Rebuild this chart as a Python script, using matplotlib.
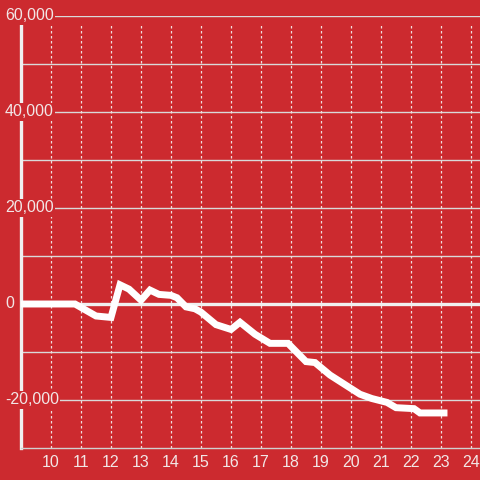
import matplotlib
matplotlib.use("Agg")
import matplotlib.pyplot as plt
import matplotlib.transforms as mtransforms

# series
hours = [9.0, 10.8, 11.5, 12.0, 12.3, 12.6, 13.0, 13.3, 13.6, 14.0, 14.2, 14.5,
         14.8, 15.0, 15.5, 16.0, 16.3, 16.8, 17.3, 17.9, 18.5, 18.8, 19.3, 19.9,
         20.3, 20.7, 21.2, 21.5, 22.1, 22.3, 23.1]
values = [0, 0, -2500, -2800, 4000, 3100, 800, 2900, 2000, 1800, 1300, -600,
          -1000, -1700, -4300, -5300, -3800, -6300, -8200, -8200, -12000, -12200, -14800, -17200,
          -18800, -19700, -20500, -21600, -21800, -22700, -22700]

x_ticks = list(range(10, 25))
y_labels = [-20000, 0, 20000, 40000, 60000]
y_grid = list(range(-20000, 60001, 10000))

bg = "#cc2a2f"
txt = "#f2e6e6"
plt.rcParams["font.family"] = ["Liberation Sans", "DejaVu Sans"]

fig = plt.figure(figsize=(4.8, 4.8), dpi=100, facecolor=bg)
ax = fig.add_axes([21 / 480, 32 / 480, 459 / 480, 432 / 480])
ax.set_facecolor(bg)
ax.set_xlim(9, 9 + 459 / 30)
ax.set_ylim(-30000, 60000)

for v in y_grid:
    ax.axhline(v, color="#d9d9d9", lw=1, zorder=1)
ax.axhline(0, color="#f0f0f0", lw=2.4, zorder=2)
ax.vlines(x_ticks, -30000, 58300, colors="#f0dede", lw=0.9, linestyles=(0, (2, 2)), zorder=1)

ax.plot(hours, values, color="white", lw=5, solid_joinstyle="miter", zorder=3)

for s in ["top", "right"]:
    ax.spines[s].set_visible(False)
ax.spines["left"].set_color("#f0f0f0")
ax.spines["left"].set_linewidth(2.4)
ax.spines["left"].set_bounds(-30000, 58300)
ax.spines["bottom"].set_color("#d0d0d0")
ax.spines["bottom"].set_linewidth(1)

ax.set_xticks(x_ticks)
ax.set_xticklabels([str(t) for t in x_ticks], color=txt, fontsize=11.5)
ax.tick_params(axis="x", length=0, pad=5)
ax.set_yticks([])

lab_tr = mtransforms.blended_transform_factory(fig.transFigure, ax.transData)
for v in y_labels:
    ax.text(5 / 480, v, f"{v:,}", transform=lab_tr, color=txt, fontsize=11.5,
            ha="left", va="center", zorder=5, clip_on=False,
            bbox=dict(facecolor=bg, edgecolor="none", pad=1.0))

fig.savefig("out.png", dpi=100, facecolor=bg)
